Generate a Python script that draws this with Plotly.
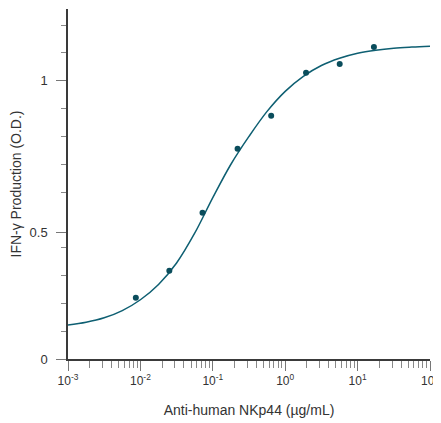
import plotly.graph_objects as go

# Measured data points (concentration in µg/mL, O.D.)
conc = [0.00865, 0.0251, 0.0721, 0.220, 0.640, 1.94, 5.66, 16.8]
od = [0.220, 0.317, 0.526, 0.756, 0.874, 1.029, 1.060, 1.121]

# Fitted curve
curve_x = [0.001, 0.00178, 0.00316, 0.00562, 0.01, 0.0178, 0.0316, 0.0562,
           0.1, 0.178, 0.316, 0.562, 1.0, 1.78, 3.16, 5.62, 10.0, 17.8,
           31.6, 56.2, 100.0]
curve_y = [0.122, 0.132, 0.148, 0.174, 0.213, 0.268, 0.345, 0.452,
           0.580, 0.700, 0.800, 0.890, 0.962, 1.016, 1.055, 1.081, 1.099,
           1.110, 1.117, 1.121, 1.124]

# Axis ticks
x_tickvals = [0.001, 0.01, 0.1, 1, 10, 100]
x_ticktext = ["10<sup>-3</sup>", "10<sup>-2</sup>", "10<sup>-1</sup>",
              "10<sup>0</sup>", "10<sup>1</sup>", "10<sup>2</sup>"]
y_tickvals = [0, 0.454, 1]
y_ticktext = ["0", "0.5", "1"]
y_minor = [0.1, 0.2, 0.3, 0.4, 0.6, 0.7, 0.8, 0.9, 1.1, 1.2]
x_minor = [m * 10.0 ** e for e in range(-3, 2) for m in range(2, 10)]

teal_line = "#0e5f72"
teal_dot = "#0a4d5c"
axis_col = "#3a3a3a"
font_fam = "Liberation Sans, Arial, sans-serif"

fig = go.Figure()
fig.add_trace(go.Scatter(x=curve_x, y=curve_y, mode="lines",
                         line=dict(color=teal_line, width=1.5, shape="spline"),
                         hoverinfo="skip"))
fig.add_trace(go.Scatter(x=conc, y=od, mode="markers",
                         marker=dict(color=teal_dot, size=6)))

# page body has an 8px default margin, so the figure is sized to fit the window
fig.update_layout(
    width=433, height=415,
    margin=dict(l=60, r=11, t=1, b=64),
    plot_bgcolor="white", paper_bgcolor="white",
    showlegend=False,
    font=dict(family=font_fam, color="#333333", size=13),
)
fig.update_xaxes(
    type="log", range=[-3, 2], automargin=False,
    showline=True, linecolor=axis_col, linewidth=1.5,
    showgrid=False, zeroline=False,
    tickmode="array", tickvals=x_tickvals, ticktext=x_ticktext,
    ticks="outside", ticklen=10, tickwidth=1, tickcolor="#777777",
    tickfont=dict(size=12),
    minor=dict(tickmode="array", tickvals=x_minor, ticks="outside",
               ticklen=7, tickwidth=1, tickcolor="#888888", showgrid=False),
    title=dict(text="Anti-human NKp44 (µg/mL)", font=dict(size=14), standoff=18),
)
fig.update_yaxes(
    range=[0, 1.258], automargin=False,
    showline=True, linecolor=axis_col, linewidth=1.5,
    showgrid=False, zeroline=False,
    tickmode="array", tickvals=y_tickvals, ticktext=y_ticktext,
    ticks="outside", ticklen=10, tickwidth=1, tickcolor="#777777",
    tickfont=dict(size=13), ticklabelstandoff=6,
    minor=dict(tickmode="array", tickvals=y_minor, ticks="outside",
               ticklen=5, tickwidth=1, tickcolor="#888888", showgrid=False),
    title=dict(text="IFN-γ Production (O.D.)", font=dict(size=14), standoff=6),
)

fig.write_html("out.html")
